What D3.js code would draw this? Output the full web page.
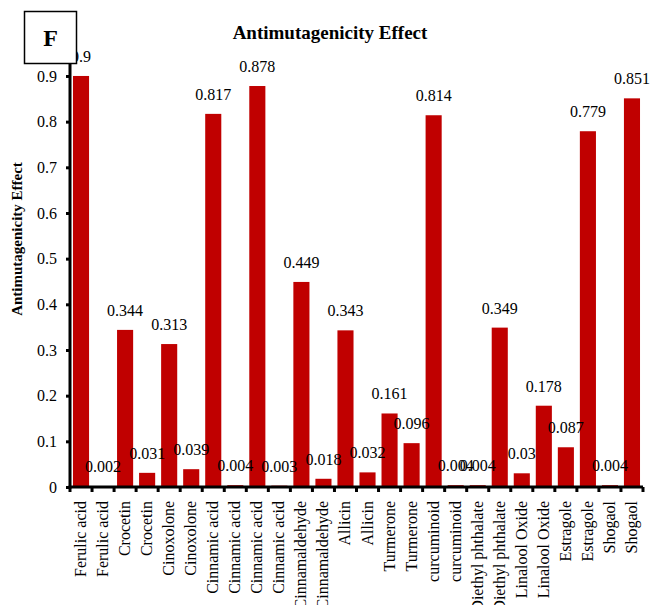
<!DOCTYPE html>
<html>
<head>
<meta charset="utf-8">
<script src="https://cdn.jsdelivr.net/npm/d3@7/dist/d3.min.js"></script>
<style>
body { margin: 0; background: #fff; }
svg text { font-family: 'Liberation Serif', 'DejaVu Serif', serif !important; }
</style>
</head>
<body>
<div id="figure-div"></div>
<script>
// chart data
var categories = ["Ferulic acid", "Ferulic acid", "Crocetin", "Crocetin", "Cinoxolone", "Cinoxolone",
	"Cinnamic acid", "Cinnamic acid", "Cinnamic acid", "Cinnamic acid", "Cinnamaldehyde", "Cinnamaldehyde",
	"Allicin", "Allicin", "Turmerone", "Turmerone", "curcuminoid", "curcuminoid",
	"Diethyl phthalate", "Diethyl phthalate", "Linalool Oxide", "Linalool Oxide",
	"Estragole", "Estragole", "Shogaol", "Shogaol"];
var values = [0.9, 0.002, 0.344, 0.031, 0.313, 0.039, 0.817, 0.004, 0.878, 0.003, 0.449, 0.018,
	0.343, 0.032, 0.161, 0.096, 0.814, 0.004, 0.004, 0.349, 0.03, 0.178, 0.087, 0.779, 0.004, 0.851];
var yTicks = [0, 0.1, 0.2, 0.3, 0.4, 0.5, 0.6, 0.7, 0.8, 0.9];

var w = 651;
var h = 605;
var left = 70, right = 643, base = 487;
var serif = "'Liberation Serif', 'DejaVu Serif', serif";

var svg = d3.select("#figure-div").append("svg")
	.attr("width", w)
	.attr("height", h)
	.attr("font-family", serif);

var idx = d3.range(categories.length);

var xScale = d3.scaleBand()
	.domain(idx)
	.range([left, right])
	.paddingInner(0.27)
	.paddingOuter(0.135);

var yScale = d3.scaleLinear()
	.domain([0, 0.93])
	.range([base, base - 0.93 * 456.7]);

// bars
svg.selectAll("rect.bar")
	.data(idx)
	.enter()
	.append("rect")
	.attr("class", "bar")
	.attr("x", function(i) { return xScale(i) })
	.attr("y", function(i) { return yScale(values[i]) })
	.attr("width", xScale.bandwidth())
	.attr("height", function(i) { return base - yScale(values[i]) })
	.attr("fill", "#c00000");

// value labels
svg.selectAll("text.val")
	.data(idx)
	.enter()
	.append("text")
	.attr("class", "val")
	.attr("x", function(i) { return xScale(i) + xScale.bandwidth() / 2 })
	.attr("y", function(i) { return yScale(values[i]) - 14 })
	.attr("text-anchor", "middle")
	.style("font-family", serif)
	.style("font-size", "16px")
	.text(function(i) { return String(values[i]) });

// y axis
var yAxis = svg.append("g")
	.attr("transform", "translate(" + left + ",0)")
	.call(d3.axisLeft(yScale).tickValues(yTicks).tickSize(4).tickPadding(9)
		.tickFormat(function(d) { return d === 0 ? "0" : d3.format(".1f")(d) }));
yAxis.attr("font-family", serif);
yAxis.select(".domain").attr("stroke-width", 3).attr("d", "M0," + yScale(0.93) + "V" + (base + 1.5));
yAxis.selectAll(".tick line").attr("stroke-width", 3);
yAxis.selectAll(".tick text").style("font-size", "16px").style("font-family", serif).attr("dy", "0.33em");

// x axis with ticks on band edges
var xAxis = svg.append("g")
	.attr("transform", "translate(0," + base + ")");
xAxis.append("line")
	.attr("x1", left - 1.5).attr("x2", right)
	.attr("stroke", "black").attr("stroke-width", 3);
xAxis.selectAll("line.tk")
	.data(d3.range(categories.length + 1))
	.enter()
	.append("line")
	.attr("class", "tk")
	.attr("x1", function(i) { return left + i * (right - left) / categories.length })
	.attr("x2", function(i) { return left + i * (right - left) / categories.length })
	.attr("y1", 0).attr("y2", 5)
	.attr("stroke", "black").attr("stroke-width", 3);

svg.selectAll("text.xticks")
	.data(idx)
	.enter()
	.append("text")
	.attr("class", "xticks")
	.attr("transform", function(i) {
		return "translate(" + (xScale(i) + xScale.bandwidth() / 2 + 5) + "," + (base + 14) + ") rotate(-90)" })
	.attr("text-anchor", "end")
	.style("font-family", serif)
	.style("font-size", "16px")
	.text(function(i) { return categories[i] });

// title
svg.append("text")
	.attr("x", 330)
	.attr("y", 39)
	.attr("text-anchor", "middle")
	.style("font-family", serif)
	.style("font-size", "19px")
	.style("font-weight", "bold")
	.text("Antimutagenicity Effect");

// y axis label
svg.append("text")
	.attr("transform", "translate(22,239) rotate(-90)")
	.attr("text-anchor", "middle")
	.style("font-family", serif)
	.style("font-size", "15px")
	.style("font-weight", "bold")
	.text("Antimutagenicity Effect");

// panel letter box
svg.append("rect")
	.attr("x", 24.5).attr("y", 11.5)
	.attr("width", 52).attr("height", 52)
	.attr("fill", "white").attr("stroke", "black").attr("stroke-width", 1.5);
svg.append("text")
	.attr("x", 50.5).attr("y", 46)
	.attr("text-anchor", "middle")
	.style("font-family", serif)
	.style("font-size", "24px")
	.style("font-weight", "bold")
	.text("F");
</script>
</body>
</html>
